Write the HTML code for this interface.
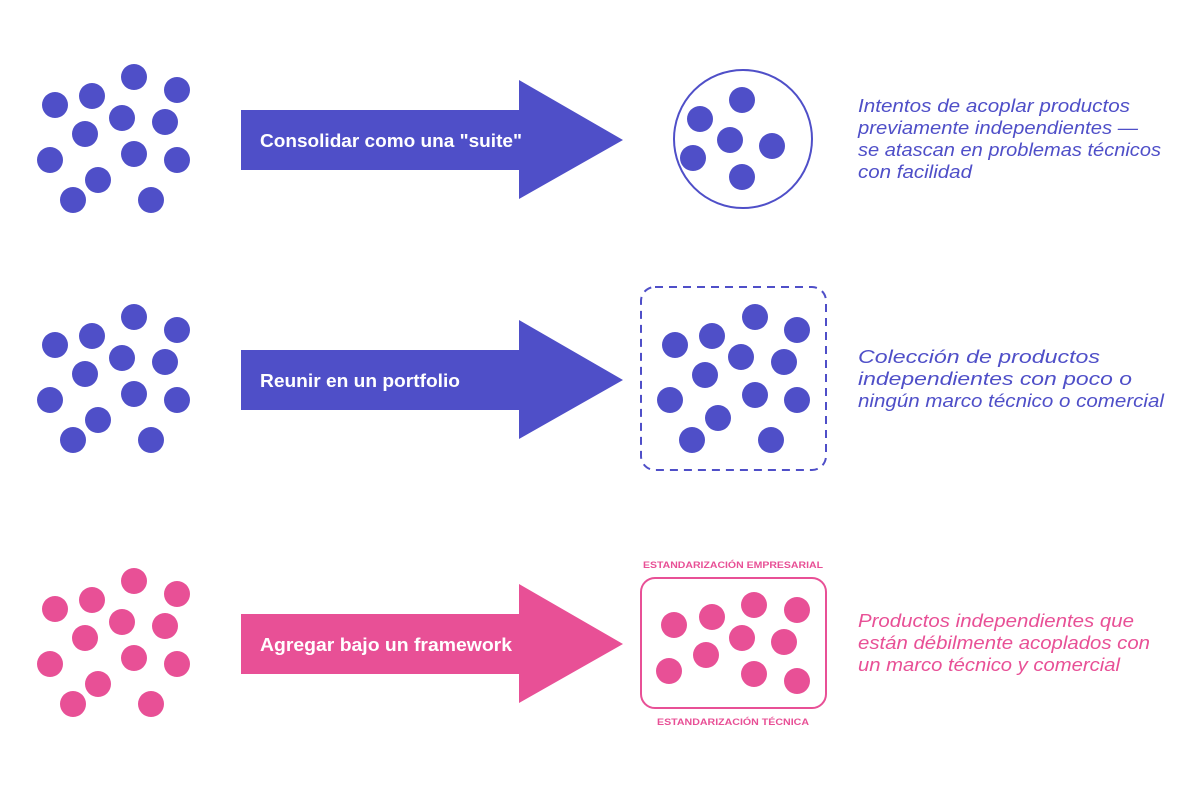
<!DOCTYPE html>
<html><head><meta charset="utf-8"><style>html,body{margin:0;padding:0;background:#fff}svg{display:block}</style></head>
<body>
<svg width="1200" height="793" viewBox="0 0 1200 793" xmlns="http://www.w3.org/2000/svg" font-family="Liberation Sans, sans-serif">
<defs>
<g id="cl">
<circle cx="55" cy="105" r="13"/><circle cx="92" cy="96" r="13"/><circle cx="134" cy="77" r="13"/><circle cx="177" cy="90" r="13"/>
<circle cx="122" cy="118" r="13"/><circle cx="165" cy="122" r="13"/><circle cx="85" cy="134" r="13"/><circle cx="50" cy="160" r="13"/>
<circle cx="134" cy="154" r="13"/><circle cx="177" cy="160" r="13"/><circle cx="98" cy="180" r="13"/><circle cx="73" cy="200" r="13"/><circle cx="151" cy="200" r="13"/>
</g>
<path id="ar" d="M241 110 H519 V80 L623 140 L519 199 V170 H241 Z"/>
</defs>
<g fill="#4f4fc8">
<use href="#cl"/>
<use href="#cl" y="240"/>
<use href="#ar"/>
<use href="#ar" y="240"/>
<circle cx="742" cy="100" r="13"/><circle cx="700" cy="119" r="13"/><circle cx="730" cy="140" r="13"/><circle cx="772" cy="146" r="13"/><circle cx="693" cy="158" r="13"/><circle cx="742" cy="177" r="13"/>
<circle cx="755" cy="317" r="13"/><circle cx="797" cy="330" r="13"/><circle cx="712" cy="336" r="13"/><circle cx="675" cy="345" r="13"/><circle cx="741" cy="357" r="13"/><circle cx="784" cy="362" r="13"/><circle cx="705" cy="375" r="13"/><circle cx="670" cy="400" r="13"/><circle cx="755" cy="395" r="13"/><circle cx="797" cy="400" r="13"/><circle cx="718" cy="418" r="13"/><circle cx="692" cy="440" r="13"/><circle cx="771" cy="440" r="13"/>
</g>
<circle cx="743" cy="139" r="69" fill="none" stroke="#4f4fc8" stroke-width="2"/>
<rect x="641" y="287" width="185" height="183" rx="14" fill="none" stroke="#4f4fc8" stroke-width="2" stroke-dasharray="8,6"/>
<g fill="#e85096">
<use href="#cl" y="504"/>
<use href="#ar" y="504"/>
<circle cx="674" cy="625" r="13"/><circle cx="712" cy="617" r="13"/><circle cx="754" cy="605" r="13"/><circle cx="797" cy="610" r="13"/><circle cx="742" cy="638" r="13"/><circle cx="784" cy="642" r="13"/><circle cx="706" cy="655" r="13"/><circle cx="669" cy="671" r="13"/><circle cx="754" cy="674" r="13"/><circle cx="797" cy="681" r="13"/>
</g>
<rect x="641" y="578" width="185" height="130" rx="14" fill="none" stroke="#e85096" stroke-width="2"/>
<g fill="#e85096" font-size="9" font-weight="bold" text-anchor="middle">
<text x="733" y="568" textLength="180" lengthAdjust="spacingAndGlyphs">ESTANDARIZACIÓN EMPRESARIAL</text>
<text x="733" y="725" textLength="152" lengthAdjust="spacingAndGlyphs">ESTANDARIZACIÓN TÉCNICA</text>
</g>
<g fill="#fff" font-size="18" font-weight="bold">
<text x="260" y="147" textLength="262" lengthAdjust="spacingAndGlyphs">Consolidar como una "suite"</text>
<text x="260" y="387" textLength="200" lengthAdjust="spacingAndGlyphs">Reunir en un portfolio</text>
<text x="260" y="651" textLength="252" lengthAdjust="spacingAndGlyphs">Agregar bajo un framework</text>
</g>
<g fill="#4f4fc8" font-size="18" font-style="italic">
<text x="858" y="112" textLength="272" lengthAdjust="spacingAndGlyphs">Intentos de acoplar productos</text>
<text x="858" y="134" textLength="280" lengthAdjust="spacingAndGlyphs">previamente independientes —</text>
<text x="858" y="156" textLength="303" lengthAdjust="spacingAndGlyphs">se atascan en problemas técnicos</text>
<text x="858" y="178" textLength="114" lengthAdjust="spacingAndGlyphs">con facilidad</text>
<text x="858" y="363" textLength="242" lengthAdjust="spacingAndGlyphs">Colección de productos</text>
<text x="858" y="385" textLength="274" lengthAdjust="spacingAndGlyphs">independientes con poco o</text>
<text x="858" y="407" textLength="306" lengthAdjust="spacingAndGlyphs">ningún marco técnico o comercial</text>
</g>
<g fill="#e85096" font-size="18" font-style="italic">
<text x="858" y="627" textLength="276" lengthAdjust="spacingAndGlyphs">Productos independientes que</text>
<text x="858" y="649" textLength="292" lengthAdjust="spacingAndGlyphs">están débilmente acoplados con</text>
<text x="858" y="671" textLength="262" lengthAdjust="spacingAndGlyphs">un marco técnico y comercial</text>
</g>
</svg>
</body></html>
